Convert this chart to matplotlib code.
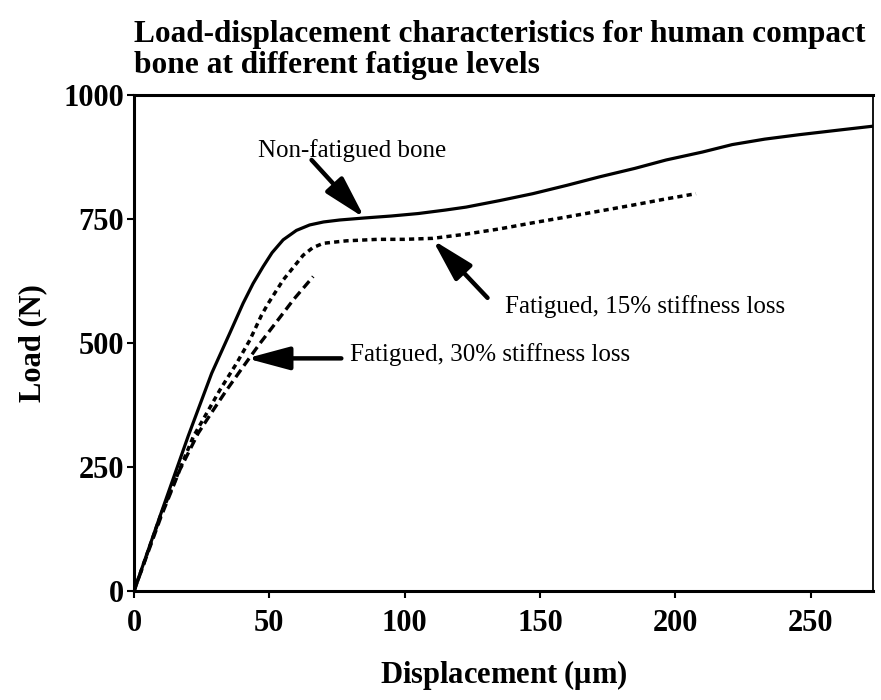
import matplotlib
matplotlib.use("Agg")
import matplotlib.pyplot as plt

# values (displacement in um, load in N)
non_fat_x = [0, 10, 20, 28.7, 35.4, 40.3, 44, 47.7, 51, 55.1, 60, 64.9, 70, 76, 85,
             95, 105, 115, 122.7, 135, 147.3, 160, 172, 185, 196.6, 210, 221, 233, 245.8, 260, 272.8]
non_fat_y = [0, 157, 312, 439, 520, 580, 620, 654, 682, 708, 727, 738, 744, 748, 752,
             756, 761, 768, 774, 787, 801, 818, 835, 852, 869, 885, 900, 911, 920, 929, 937]

fat15_x = [0, 10, 21.9, 26.8, 31.7, 37.9, 42.8, 47.1, 49.6, 55.1, 62.5, 66, 69.9, 78.5,
           90, 100, 110.4, 122, 135, 147, 159.7, 172, 184.3, 196, 207.6]
fat15_y = [0, 155, 311, 358, 405, 459, 506, 556, 580, 627, 677, 692, 701, 706,
           709, 709, 711, 719, 730, 742, 754, 766, 778, 790, 801]

fat30_x = [0, 10, 17, 23.7, 29.3, 34.2, 40.3, 46.5, 52.7, 59, 66.2]
fat30_y = [0, 150, 245, 318, 365, 405, 452, 499, 543, 588, 634]

x_ticks = [0, 50, 100, 150, 200, 250]
y_ticks = [0, 250, 500, 750, 1000]

title = "Load-displacement characteristics for human compact\nbone at different fatigue levels"
lbl_non = "Non-fatigued bone"
lbl_15 = "Fatigued, 15% stiffness loss"
lbl_30 = "Fatigued, 30% stiffness loss"

plt.rcParams['font.family'] = ['Liberation Serif', 'DejaVu Serif']
plt.rcParams['mathtext.fontset'] = 'custom'
plt.rcParams['mathtext.rm'] = 'Liberation Serif'
plt.rcParams['mathtext.bf'] = 'Liberation Serif:bold'

fig = plt.figure(figsize=(8.81, 7.0), dpi=100)
ax = fig.add_axes([0.1521, 0.1557, 0.8388, 0.7086])

ax.plot(non_fat_x, non_fat_y, color='black', lw=2.3, solid_capstyle='round')
ax.plot(fat15_x, fat15_y, color='black', lw=2.5, linestyle=(0, (1.5, 1.2)))
ax.plot(fat30_x, fat30_y, color='black', lw=2.4, linestyle=(0, (2.7, 1.5)))

ax.set_xlim(0, 273)
ax.set_ylim(0, 1000)
ax.set_xticks(x_ticks)
ax.set_yticks(y_ticks)
ax.tick_params(direction='out', length=5, width=1.5, labelsize=22)
ax.tick_params(axis='y', pad=2)
ax.tick_params(axis='x', pad=8)
for lab in ax.get_xticklabels() + ax.get_yticklabels():
    lab.set_fontweight('bold')

for side in ['left', 'bottom', 'top']:
    ax.spines[side].set_linewidth(2.2)
ax.spines['right'].set_linewidth(1.3)

ax.set_xlabel("Displacement ($\\mathbf{\\mu}$m)", fontsize=22, fontweight='bold', labelpad=14)
ax.set_ylabel("Load (N)", fontsize=22, fontweight='bold', labelpad=12)

fig.text(0.1521, 0.972, title, fontsize=22.6, fontweight='bold', ha='left', va='top',
         linespacing=1.1)

arrow = dict(arrowstyle='-|>,head_length=1.3,head_width=0.35', color='black',
             lw=3.2, mutation_scale=20, shrinkA=0, shrinkB=0)

ax.text(45.8, 889, lbl_non, fontsize=18, ha='left', va='center')
ax.annotate('', xy=(85.2, 752), xytext=(65.6, 869), arrowprops=arrow)

ax.text(137, 573, lbl_15, fontsize=18, ha='left', va='center')
ax.annotate('', xy=(110.3, 708), xytext=(130.6, 591), arrowprops=arrow)

ax.text(79.7, 476, lbl_30, fontsize=18, ha='left', va='center')
ax.annotate('', xy=(41.6, 469), xytext=(76.6, 469), arrowprops=arrow)

fig.savefig("out.png", dpi=100)
